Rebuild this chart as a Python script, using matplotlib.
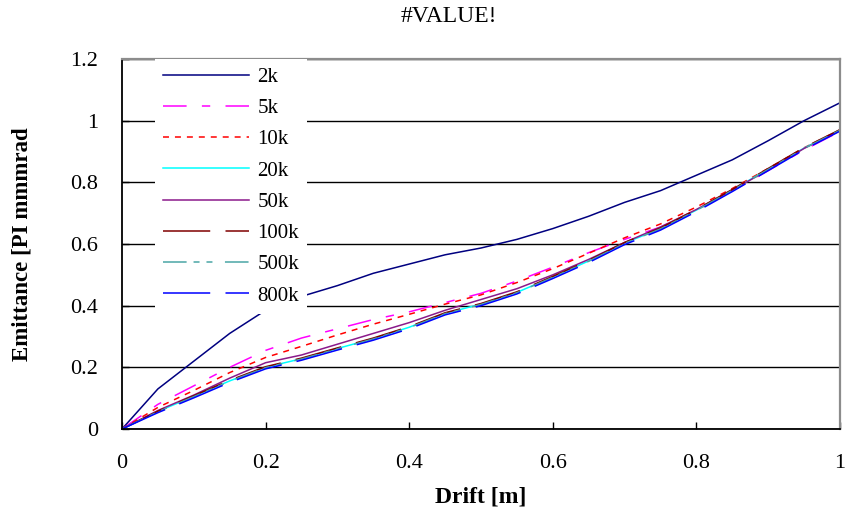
import matplotlib
matplotlib.use("Agg")
import matplotlib.pyplot as plt

plt.rcParams['font.family'] = ['Liberation Serif', 'DejaVu Serif']
plt.rcParams['lines.scale_dashes'] = False

drift = [0.0, 0.05, 0.1, 0.15, 0.2, 0.25, 0.3, 0.35, 0.4, 0.45, 0.5,
         0.55, 0.6, 0.65, 0.7, 0.75, 0.8, 0.85, 0.9, 0.95, 1.0]

e_2k   = [0.0, 0.13, 0.22, 0.31, 0.385, 0.43, 0.465, 0.505, 0.535, 0.565, 0.587,
          0.615, 0.65, 0.69, 0.735, 0.773, 0.823, 0.873, 0.935, 1.0, 1.058]
e_5k   = [0.0, 0.08, 0.14, 0.20, 0.255, 0.295, 0.325, 0.355, 0.38, 0.41, 0.44,
          0.48, 0.525, 0.572, 0.615, 0.655, 0.71, 0.772, 0.838, 0.905, 0.965]
e_10k  = [0.0, 0.07, 0.125, 0.183, 0.232, 0.268, 0.305, 0.34, 0.372, 0.405, 0.435,
          0.475, 0.52, 0.57, 0.62, 0.665, 0.72, 0.78, 0.845, 0.912, 0.97]
e_20k  = [0.0, 0.057, 0.106, 0.156, 0.2, 0.228, 0.261, 0.293, 0.33, 0.375, 0.405,
          0.443, 0.493, 0.545, 0.603, 0.65, 0.71, 0.775, 0.843, 0.911, 0.97]
e_50k  = [0.0, 0.06, 0.11, 0.165, 0.215, 0.24, 0.275, 0.31, 0.345, 0.385, 0.42,
          0.455, 0.5, 0.55, 0.605, 0.655, 0.712, 0.775, 0.84, 0.91, 0.968]
e_100k = [0.0, 0.058, 0.108, 0.158, 0.202, 0.23, 0.263, 0.295, 0.332, 0.377, 0.407,
          0.445, 0.495, 0.547, 0.605, 0.652, 0.712, 0.777, 0.845, 0.913, 0.971]
e_500k = [0.0, 0.056, 0.105, 0.155, 0.199, 0.227, 0.26, 0.292, 0.329, 0.374, 0.404,
          0.442, 0.492, 0.544, 0.602, 0.649, 0.709, 0.774, 0.842, 0.91, 0.969]
e_800k = [0.0, 0.053, 0.101, 0.151, 0.195, 0.223, 0.256, 0.288, 0.325, 0.37, 0.4,
          0.438, 0.488, 0.54, 0.598, 0.645, 0.705, 0.77, 0.838, 0.906, 0.966]

labels = ['2k', '5k', '10k', '20k', '50k', '100k', '500k', '800k']
series = [e_2k, e_5k, e_10k, e_20k, e_50k, e_100k, e_500k, e_800k]
colors = ['#000080', '#ff00ff', '#ff0000', '#00ffff', '#8b1a8b', '#800000', '#4aa6a6', '#0000ff']
dashes = [None, (17, 11, 6, 11), (4.3, 4.3), None, None, (34, 11),
          (17, 5, 4.3, 5, 4.3, 9), (34, 11)]

x_ticks = [0, 0.2, 0.4, 0.6, 0.8, 1]
x_ticklabels = ['0', '0.2', '0.4', '0.6', '0.8', '1']
y_ticks = [0, 0.2, 0.4, 0.6, 0.8, 1, 1.2]
y_ticklabels = ['0', '0.2', '0.4', '0.6', '0.8', '1', '1.2']

fig = plt.figure(figsize=(8.49, 5.15), dpi=100)
W, H = 849, 515
ax = fig.add_axes([122 / W, (H - 429) / H, 718 / W, 370 / H])

for lab, ys, c, d in zip(labels, series, colors, dashes):
    kw = dict(color=c, linewidth=1.1, label=lab)
    if d is not None:
        kw['dashes'] = d
    ax.plot(drift, ys, **kw)

ax.set_xlim(0, 1)
ax.set_ylim(0, 1.2)
ax.set_xticks(x_ticks)
ax.set_xticklabels(x_ticklabels)
ax.set_yticks(y_ticks)
ax.set_yticklabels(y_ticklabels)
ax.tick_params(axis='both', direction='in', length=5, width=1, colors='black',
               labelsize=16)
ax.tick_params(axis='x', pad=18)
ax.tick_params(axis='y', pad=17)

ax.set_axisbelow(True)
ax.yaxis.grid(True, color='black', linewidth=1.0)
for s in ['left', 'bottom']:
    ax.spines[s].set_color('black')
    ax.spines[s].set_linewidth(1.3)
for s in ['top', 'right']:
    ax.spines[s].set_color('#8c8c8c')
    ax.spines[s].set_linewidth(1.6)

ax.set_xlabel('Drift [m]', fontsize=17, fontweight='bold')
ax.xaxis.set_label_coords(0.5, -0.184)
ax.xaxis.label.set_va('center')
ax.set_ylabel('Emittance [PI mmmrad', fontsize=16.5, fontweight='bold')
ax.yaxis.set_label_coords(-0.139, 0.5)
ax.yaxis.label.set_va('center')

leg = ax.legend(loc='upper left', bbox_to_anchor=((155 - 122) / 718, 1.0),
                borderaxespad=0, frameon=True, fontsize=15,
                handlelength=4.13, handletextpad=0.38, labelspacing=0.56,
                borderpad=0.4, fancybox=False)
leg.get_frame().set_facecolor('white')
leg.get_frame().set_edgecolor('none')
leg.get_frame().set_alpha(1)

fig.text(449 / W, 1 - 17 / H, '#VALUE!', ha='center', va='center', fontsize=17)

fig.savefig('out.png', dpi=100, facecolor='white')
